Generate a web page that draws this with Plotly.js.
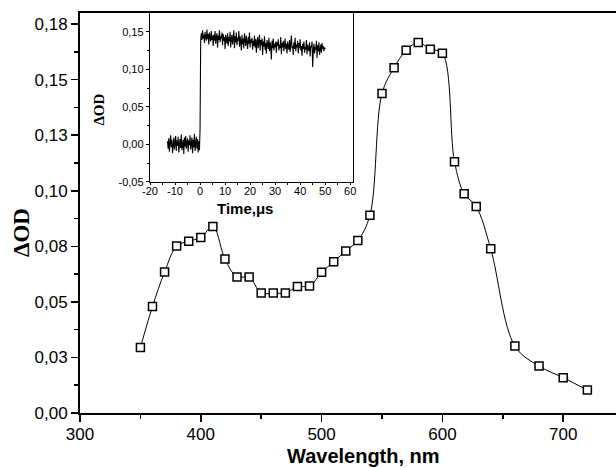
<!DOCTYPE html>
<html>
<head>
<meta charset="utf-8">
<script src="https://cdn.plot.ly/plotly-3.0.1.min.js"></script>
<style>html,body{margin:0;padding:0;background:#fff;}#chart{width:616px;height:468px;}</style>
</head>
<body>
<div id="chart"></div>
<script>
// Main spectrum
const wavelength = [350,360,370,380,390,400,410,420,430,440,450,460,470,480,490,500,510,520,530,540,550,560,570,580,590,600,610,618,628,640,660,680,700,720];
const deltaOD = [0.0295,0.0479,0.0634,0.0751,0.0773,0.0790,0.0839,0.0693,0.0612,0.0612,0.0540,0.0540,0.0540,0.0569,0.0571,0.0633,0.0681,0.0729,0.0776,0.0890,0.1438,0.1554,0.1632,0.1667,0.1637,0.1619,0.1131,0.0987,0.0929,0.0739,0.0301,0.0211,0.0159,0.0103];

const xTickVals = [300,400,500,600,700];
const xTickText = ["300","400","500","600","700"];
const xMinorVals = [350,450,550,650];
const yTickVals = [0,0.025,0.05,0.075,0.1,0.125,0.15,0.175];
const yTickText = ["0,00","0,03","0,05","0,08","0,10","0,13","0,15","0,18"];
const yMinorVals = [0.0125,0.0375,0.0625,0.0875,0.1125,0.1375,0.1625];

// Inset kinetic trace (time grid start/step)
const kinStart = -13;
const kinStep = 0.25;
const kinValues = [
 0.004,-0.006,0.008,-0.010,0.002,0.012,-0.004,0.006,-0.012,0.003,0.009,-0.007,0.001,0.011,-0.009,0.005,-0.002,0.010,-0.011,0.004,
 0.007,-0.005,0.013,-0.008,0.000,0.006,-0.013,0.009,-0.003,0.011,-0.006,0.002,0.008,-0.010,0.005,-0.001,0.012,-0.007,0.003,0.009,
 -0.012,0.006,-0.004,0.014,-0.009,0.001,0.010,-0.006,0.007,-0.011,0.004,-0.008,
 0.020,0.138,
 0.148,0.139,0.152,0.141,0.146,0.135,0.150,0.143,0.138,0.153,0.140,0.147,0.133,0.149,0.142,0.137,0.151,0.139,0.145,0.131,
 0.146,0.138,0.151,0.134,0.143,0.148,0.129,0.145,0.139,0.152,0.136,0.144,0.141,0.149,0.132,0.147,0.138,0.143,0.127,0.146,
 0.140,0.134,0.148,0.131,0.143,0.137,0.150,0.129,0.141,0.146,0.133,0.139,0.152,0.128,0.144,0.136,0.149,0.132,0.142,0.138,
 0.151,0.130,0.144,0.137,0.125,0.146,0.133,0.141,0.128,0.148,0.136,0.131,0.145,0.139,0.127,0.143,0.134,0.149,0.129,0.140,
 0.135,0.142,0.126,0.138,0.131,0.145,0.129,0.140,0.122,0.136,0.143,0.128,0.134,0.146,0.125,0.139,0.132,0.141,0.119,0.137,
 0.130,0.144,0.126,0.135,0.121,0.139,0.132,0.127,0.142,0.124,0.136,0.130,0.113,0.138,0.128,0.141,0.125,0.134,0.129,0.137,
 0.122,0.136,0.131,0.140,0.125,0.133,0.128,0.143,0.120,0.135,0.129,0.138,0.124,0.132,0.141,0.127,0.134,0.121,0.137,0.130,
 0.126,0.139,0.123,0.134,0.145,0.128,0.131,0.119,0.136,0.127,0.142,0.124,0.133,0.129,0.138,0.121,0.135,0.128,0.140,0.125,
 0.131,0.118,0.134,0.127,0.137,0.122,0.130,0.126,0.139,0.120,0.133,0.128,0.124,0.136,0.117,0.131,0.129,0.137,0.103,0.125,
 0.134,0.121,0.130,0.126,0.138,0.115,0.132,0.124,0.136,0.119,0.129,0.133,0.122,0.135,0.127,0.131,0.124,0.129,0.127
];
const kinTime = kinValues.map((v, i) => kinStart + i * kinStep);

const insXTickVals = [-20,-10,0,10,20,30,40,50,60];
const insXTickText = ["-20","-10","0","10","20","30","40","50","60"];
const insXMinorVals = [-15,-5,5,15,25,35,45,55];
const insYTickVals = [-0.05,0,0.05,0.1,0.15];
const insYTickText = ["-0,05","0,00","0,05","0,10","0,15"];
const insYMinorVals = [-0.025,0.025,0.075,0.125];

const sans = "Liberation Sans, Arial, sans-serif";
const serif = "Liberation Serif, Times New Roman, serif";

const traces = [
  {
    x: wavelength, y: deltaOD, type: 'scatter', mode: 'lines+markers',
    line: {color: '#000', width: 1, shape: 'spline', smoothing: 1},
    marker: {symbol: 'square', size: 8, color: '#fff', line: {color: '#000', width: 1.5}},
    xaxis: 'x', yaxis: 'y', hoverinfo: 'skip'
  },
  {
    x: kinTime, y: kinValues, type: 'scatter', mode: 'lines',
    line: {color: '#000', width: 1.1},
    xaxis: 'x2', yaxis: 'y2', hoverinfo: 'skip'
  }
];

const layout = {
  width: 616, height: 468,
  margin: {l: 80, r: 0, t: 13, b: 55},
  paper_bgcolor: '#fff', plot_bgcolor: '#fff',
  showlegend: false,
  font: {family: sans, color: '#000'},
  xaxis: {
    domain: [0, 1], range: [300, 743.7], anchor: 'y',
    tickmode: 'array', tickvals: xTickVals, ticktext: xTickText,
    ticks: 'outside', ticklen: 7, tickwidth: 1.5, tickcolor: '#000',
    ticklabelstandoff: -2,
    minor: {tickmode: 'array', tickvals: xMinorVals, ticks: 'outside', ticklen: 4, tickwidth: 1.5, tickcolor: '#000'},
    showline: true, linewidth: 2, linecolor: '#000', mirror: true,
    showgrid: false, zeroline: false,
    tickfont: {family: sans, size: 17, color: '#000'}
  },
  yaxis: {
    domain: [0, 1], range: [0, 0.18], anchor: 'x',
    tickmode: 'array', tickvals: yTickVals, ticktext: yTickText,
    ticks: 'outside', ticklen: 7, tickwidth: 1.5, tickcolor: '#000',
    minor: {tickmode: 'array', tickvals: yMinorVals, ticks: 'outside', ticklen: 4, tickwidth: 1.5, tickcolor: '#000'},
    showline: true, linewidth: 2, linecolor: '#000',
    showgrid: false, zeroline: false,
    tickfont: {family: sans, size: 17, color: '#000'}
  },
  xaxis2: {
    domain: [0.1306, 0.5088], range: [-20, 61], anchor: 'y2',
    tickmode: 'array', tickvals: insXTickVals, ticktext: insXTickText,
    ticks: 'outside', ticklen: 2, tickwidth: 1, tickcolor: '#000',
    ticklabelstandoff: -3,
    minor: {tickmode: 'array', tickvals: insXMinorVals, ticks: 'outside', ticklen: 2, tickwidth: 1, tickcolor: '#000'},
    showline: true, linewidth: 1.2, linecolor: '#000', mirror: true,
    showgrid: false, zeroline: false,
    tickfont: {family: sans, size: 11, color: '#000'}
  },
  yaxis2: {
    domain: [0.578, 1], range: [-0.05, 0.175], anchor: 'x2',
    tickmode: 'array', tickvals: insYTickVals, ticktext: insYTickText,
    ticks: 'outside', ticklen: 3, tickwidth: 1, tickcolor: '#000',
    minor: {tickmode: 'array', tickvals: insYMinorVals, ticks: 'outside', ticklen: 2, tickwidth: 1, tickcolor: '#000'},
    showline: true, linewidth: 1.2, linecolor: '#000', mirror: true,
    showgrid: false, zeroline: false,
    tickfont: {family: sans, size: 11, color: '#000'}
  },
  annotations: [
    {text: '<b>Wavelength, nm</b>', xref: 'paper', yref: 'paper', x: 0.529, y: -0.1375,
     xanchor: 'center', yanchor: 'bottom', borderpad: 0, showarrow: false, font: {family: sans, size: 20, color: '#000'}},
    {text: '<b>ΔOD</b>', xref: 'paper', yref: 'paper', x: -0.11, y: 0.45,
     xanchor: 'center', yanchor: 'middle', textangle: -90, showarrow: false, font: {family: serif, size: 23, color: '#000'}},
    {text: '<b>Time,μs</b>', xref: 'paper', yref: 'paper', x: 0.308, y: 0.512,
     xanchor: 'center', yanchor: 'middle', showarrow: false, font: {family: sans, size: 15, color: '#000'}},
    {text: '<b>ΔOD</b>', xref: 'paper', yref: 'paper', x: 0.035, y: 0.758,
     xanchor: 'center', yanchor: 'middle', textangle: -90, showarrow: false, font: {family: serif, size: 15, color: '#000'}}
  ]
};

Plotly.newPlot('chart', traces, layout, {staticPlot: true, displayModeBar: false});
</script>
</body>
</html>
